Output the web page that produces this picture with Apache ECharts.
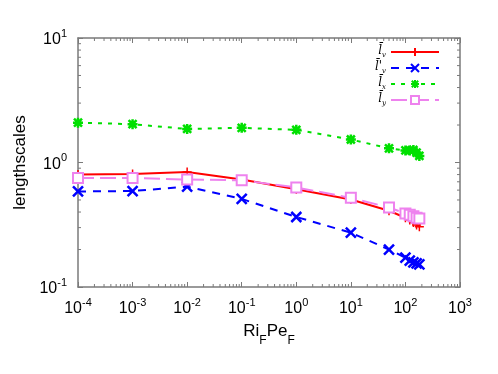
<html lang="en">
<head>
  <meta charset="utf-8"/>
  <script src="https://cdn.jsdelivr.net/npm/echarts@6/dist/echarts.min.js"></script>
  <style>
    html, body { margin: 0; padding: 0; background: #fff; }
    #chart { width: 498px; height: 374px; }
  </style>
</head>
<body>
<div id="chart"></div>
<script>
  // x positions (Ri_F Pe_F)
  var xs = [1e-4, 1e-3, 1e-2, 1e-1, 1, 10, 50, 100, 120, 140, 160, 180];
  // lengthscales
  var lv = [0.80, 0.81, 0.84, 0.73, 0.61, 0.505, 0.41, 0.36, 0.345, 0.33, 0.315, 0.305];
  var lvp = [0.585, 0.59, 0.64, 0.51, 0.365, 0.273, 0.20, 0.172, 0.163, 0.158, 0.155, 0.152];
  var lx = [2.09, 2.03, 1.86, 1.90, 1.83, 1.53, 1.30, 1.25, 1.25, 1.26, 1.20, 1.13];
  var ly = [0.75, 0.75, 0.73, 0.72, 0.63, 0.52, 0.435, 0.39, 0.38, 0.37, 0.36, 0.355];
  var names = ['lv', 'lvp', 'lx', 'ly'];
  var legendText = {
    lv: '{l|l\u0304}{s|v}',
    lvp: '{l|l\u0304\'}{s|v}',
    lx: '{l|l\u0304}{s|x}',
    ly: '{l|l\u0304}{s|y}'
  };

  var xMinor = [], yMinor = [];
  for (var k = -4; k < 3; k++) for (var m = 2; m < 10; m++) xMinor.push(m * Math.pow(10, k));
  for (var k2 = -1; k2 < 1; k2++) for (var m2 = 2; m2 < 10; m2++) yMinor.push(m2 * Math.pow(10, k2));

  function pairs(v) {
    return xs.map(function (x, i) { return [x, v[i]]; });
  }

  var font = 'Liberation Sans';
  var frame = '#7a7a7a';
  var tickRich = {
    b: { fontSize: 16, fontFamily: font, color: '#000', verticalAlign: 'bottom', lineHeight: 20 },
    s: { fontSize: 11, fontFamily: font, color: '#000', verticalAlign: 'top', lineHeight: 12 }
  };
  function powLabel(v) {
    var e = Math.round(Math.log(v) / Math.LN10);
    return '{b|10}{s|' + (e < 0 ? '-' + (-e) : e) + '}';
  }

  function axisBase(extra) {
    var a = {
      type: 'log',
      logBase: 10,
      axisLine: { show: true, lineStyle: { color: frame, width: 1.5 } },
      axisTick: { show: true, inside: true, length: 5, lineStyle: { color: frame, width: 1 } },
      splitLine: { show: false },
      minorTick: { show: false }
    };
    for (var key in extra) a[key] = extra[key];
    return a;
  }

  var plus = 'path://M0,-1L0,1M-1,0L1,0';
  var cross = 'path://M-1,-1L1,1M-1,1L1,-1';
  var star = 'path://M0,-1L0,1M-1,0L1,0M-0.8,-0.8L0.8,0.8M-0.8,0.8L0.8,-0.8';

  var chart = echarts.init(document.getElementById('chart'), null, { renderer: 'canvas' });
  var option = {
    animation: false,
    backgroundColor: '#fff',
    grid: { left: 78, right: 38, top: 38, bottom: 87 },
    legend: {
      orient: 'vertical',
      right: 53,
      top: 40,
      align: 'right',
      itemWidth: 48,
      itemHeight: 10,
      itemGap: 2,
      data: names,
      formatter: function (n) { return legendText[n]; },
      textStyle: {
        rich: {
          l: { fontFamily: 'DejaVu Serif', fontStyle: 'italic', fontSize: 12, color: '#000', verticalAlign: 'top', lineHeight: 11 },
          s: { fontFamily: 'DejaVu Serif', fontStyle: 'italic', fontSize: 7, color: '#000', verticalAlign: 'bottom', lineHeight: 14 }
        }
      }
    },
    xAxis: [
      axisBase({
        min: 1e-4, max: 1e3, splitNumber: 7,
        position: 'bottom',
        axisLabel: { margin: 10, formatter: powLabel, rich: tickRich },
        name: '{n|Ri}{f|F}{n|Pe}{f|F}',
        nameLocation: 'middle',
        nameGap: 36,
        nameTextStyle: {
          rich: {
            n: { fontSize: 17, fontFamily: font, color: '#000', verticalAlign: 'top', lineHeight: 19 },
            f: { fontSize: 12, fontFamily: font, color: '#000', verticalAlign: 'bottom', lineHeight: 24 }
          }
        }
      }),
      axisBase({
        min: 1e-4, max: 1e3, splitNumber: 7,
        position: 'top',
        axisLabel: { show: false }
      })
    ],
    yAxis: [
      axisBase({
        min: 0.1, max: 10, splitNumber: 2,
        position: 'left',
        axisLabel: { margin: 11, formatter: powLabel, rich: tickRich },
        name: 'lengthscales',
        nameLocation: 'middle',
        nameRotate: 90,
        nameGap: 46,
        nameTextStyle: { fontSize: 17, fontFamily: font, color: '#000' }
      }),
      axisBase({
        min: 0.1, max: 10, splitNumber: 2,
        position: 'right',
        axisLabel: { show: false }
      })
    ],
    series: [
      {
        name: 'lv', type: 'line', data: pairs(lv),
        symbol: plus, symbolSize: 9,
        lineStyle: { color: '#ff0000', width: 2, type: 'solid' },
        itemStyle: { color: '#ff0000', borderColor: '#ff0000', borderWidth: 1.5 }
      },
      {
        name: 'lvp', type: 'line', data: pairs(lvp),
        symbol: cross, symbolSize: 10,
        lineStyle: { color: '#0000ff', width: 2, type: [8, 7] },
        itemStyle: { color: '#0000ff', borderColor: '#0000ff', borderWidth: 2.5 }
      },
      {
        name: 'lx', type: 'line', data: pairs(lx),
        symbol: star, symbolSize: 10,
        lineStyle: { color: '#00e000', width: 2, type: [4, 6] },
        itemStyle: { color: '#00e000', borderColor: '#00e000', borderWidth: 2.5 }
      },
      {
        name: 'ly', type: 'line', data: pairs(ly),
        symbol: 'emptyRect', symbolSize: 10,
        lineStyle: { color: '#ee82ee', width: 2, type: [16, 6] },
        itemStyle: { color: '#ee82ee', borderColor: '#ee82ee', borderWidth: 1.5 }
      },
      {
        type: 'custom', silent: true, clip: false,
        data: xMinor.map(function (x) { return [x, 1]; }),
        renderItem: function (params, api) {
          var p = api.coord([api.value(0), 1]);
          var cs = params.coordSys;
          var st = { stroke: frame, lineWidth: 1 };
          return {
            type: 'group', children: [
              { type: 'line', shape: { x1: p[0], y1: cs.y + cs.height, x2: p[0], y2: cs.y + cs.height - 3 }, style: st },
              { type: 'line', shape: { x1: p[0], y1: cs.y, x2: p[0], y2: cs.y + 3 }, style: st }
            ]
          };
        }
      },
      {
        type: 'custom', silent: true, clip: false,
        data: yMinor.map(function (y) { return [1, y]; }),
        renderItem: function (params, api) {
          var p = api.coord([1, api.value(1)]);
          var cs = params.coordSys;
          var st = { stroke: frame, lineWidth: 1 };
          return {
            type: 'group', children: [
              { type: 'line', shape: { x1: cs.x, y1: p[1], x2: cs.x + 3, y2: p[1] }, style: st },
              { type: 'line', shape: { x1: cs.x + cs.width, y1: p[1], x2: cs.x + cs.width - 3, y2: p[1] }, style: st }
            ]
          };
        }
      }
    ]
  };
  chart.setOption(option);
</script>
</body>
</html>
